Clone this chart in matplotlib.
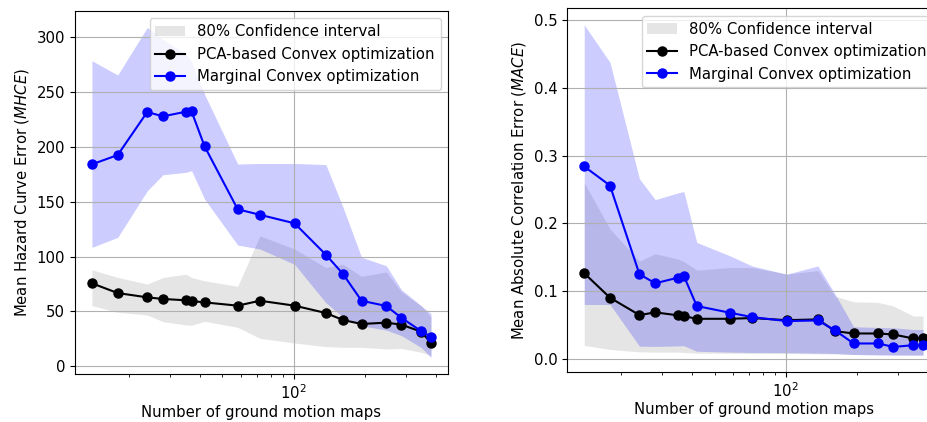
import numpy as np
import matplotlib
matplotlib.use("Agg")
import matplotlib.pyplot as plt


# number of ground motion maps (same for both panels)
n_maps = [14, 18, 24, 28, 35, 37, 42, 58, 72, 101, 137, 162, 194, 247, 286, 348, 382]

# Mean Hazard Curve Error
mhce_pca = [75.7, 66.8, 62.9, 61.4, 60.2, 59.5, 58.3, 55.3, 59.8, 55.3, 48.6, 42.2, 38.6, 39.8, 38.0, 31.5, 21.2]
mhce_pca_lo = [55.3, 49.2, 46.8, 40.7, 37.7, 37.5, 41.0, 35.5, 25.5, 21.2, 17.9, 17.3, 17.3, 15.8, 16.3, 12.7, 9.7]
mhce_pca_hi = [88.0, 81.1, 75.0, 81.0, 84.0, 81.0, 78.0, 73.0, 119.0, 107.0, 90.0, 93.0, 82.0, 86.0, 68.0, 55.0, 45.0]

mhce_marg = [184.2, 192.7, 231.9, 228.0, 232.2, 232.4, 200.6, 143.2, 138.2, 130.4, 101.8, 84.2, 59.8, 55.0, 44.3, 31.9, 26.7]
mhce_marg_lo = [108.5, 117.6, 160.0, 174.7, 176.9, 178.4, 152.5, 110.6, 107.0, 93.0, 58.0, 45.0, 37.0, 33.0, 28.0, 17.0, 8.0]
mhce_marg_hi = [278.7, 265.7, 309.0, 298.0, 285.0, 278.0, 248.0, 184.5, 185.0, 185.0, 184.0, 145.0, 99.5, 91.7, 70.0, 55.0, 48.0]

# Mean Absolute Correlation Error
mace_pca = [0.1262, 0.0900, 0.0643, 0.0683, 0.0639, 0.0628, 0.0588, 0.0588, 0.0599, 0.0568, 0.0579, 0.0405, 0.0371, 0.0371, 0.0356, 0.0297, 0.0306]
mace_pca_lo = [0.0195, 0.0134, 0.0099, 0.0095, 0.0095, 0.0090, 0.0080, 0.0078, 0.0076, 0.0074, 0.0070, 0.0068, 0.0062, 0.0060, 0.0058, 0.0055, 0.0052]
mace_pca_hi = [0.2600, 0.1916, 0.1440, 0.1550, 0.1470, 0.1436, 0.1307, 0.1346, 0.1346, 0.1250, 0.1300, 0.0920, 0.0840, 0.0830, 0.0777, 0.0628, 0.0630]

mace_marg = [0.2841, 0.2559, 0.1247, 0.1113, 0.1197, 0.1222, 0.0777, 0.0678, 0.0613, 0.0554, 0.0564, 0.0416, 0.0223, 0.0223, 0.0172, 0.0198, 0.0198]
mace_marg_lo = [0.0800, 0.0800, 0.0183, 0.0180, 0.0187, 0.0190, 0.0108, 0.0095, 0.0090, 0.0088, 0.0080, 0.0075, 0.0060, 0.0052, 0.0050, 0.0050, 0.0050]
mace_marg_hi = [0.4935, 0.4380, 0.2658, 0.2350, 0.2450, 0.2470, 0.1717, 0.1520, 0.1370, 0.1247, 0.1370, 0.0950, 0.0470, 0.0460, 0.0455, 0.0430, 0.0430]

x_label = "Number of ground motion maps"
y_labels = ["Mean Hazard Curve Error $(MHCE)$", "Mean Absolute Correlation Error $(MACE)$"]

plt.rcParams["font.size"] = 10.7

fig = plt.figure(figsize=(9.28, 4.22), dpi=100)
ax1 = fig.add_axes([0.0808, 0.1137, 0.4019, 0.8602])
ax2 = fig.add_axes([0.6113, 0.1192, 0.4016, 0.8611])

panels = [
    (ax1, mhce_pca, mhce_pca_lo, mhce_pca_hi, mhce_marg, mhce_marg_lo, mhce_marg_hi),
    (ax2, mace_pca, mace_pca_lo, mace_pca_hi, mace_marg, mace_marg_lo, mace_marg_hi),
]

for i, (ax, pca, pca_lo, pca_hi, marg, marg_lo, marg_hi) in enumerate(panels):
    ax.fill_between(n_maps, pca_lo, pca_hi, color="gray", alpha=0.2, linewidth=0,
                    label="80% Confidence interval")
    ax.fill_between(n_maps, marg_lo, marg_hi, color="blue", alpha=0.2, linewidth=0)
    ax.plot(n_maps, pca, "o-", color="black", markersize=6.5, label="PCA-based Convex optimization")
    ax.plot(n_maps, marg, "o-", color="blue", markersize=6.5, label="Marginal Convex optimization")
    ax.set_xscale("log")
    ax.grid(True)
    ax.set_xlabel(x_label, labelpad=1.5)
    ax.set_ylabel(y_labels[i])
    ax.legend(loc="upper right")

plt.savefig("out.png", dpi=100)
